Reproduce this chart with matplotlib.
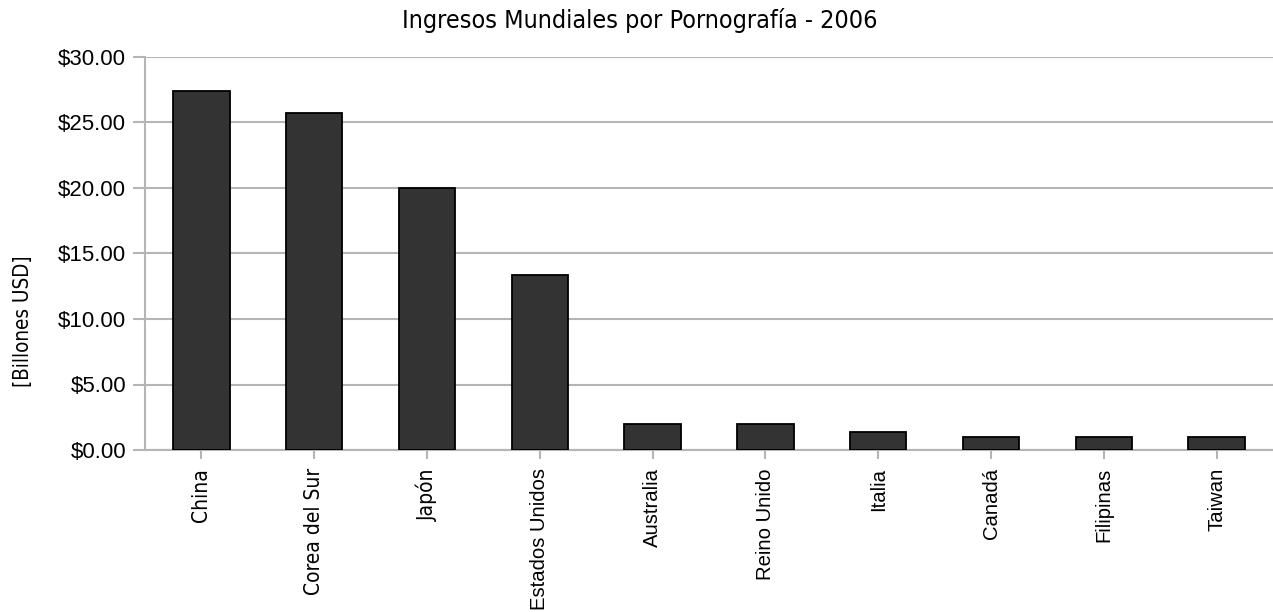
import matplotlib.pyplot as plt
from matplotlib.ticker import FuncFormatter

# Ingresos por país (miles de millones USD), 2006
paises = ["China", "Corea del Sur", "Japón", "Estados Unidos", "Australia",
          "Reino Unido", "Italia", "Canadá", "Filipinas", "Taiwan"]
ingresos = [27.40, 25.73, 19.98, 13.33, 2.00, 1.97, 1.40, 1.00, 1.00, 1.00]
y_ticks = [0, 5, 10, 15, 20, 25, 30]

gris = "#b5b5b5"
condensada = {"family": "DejaVu Sans", "stretch": "condensed"}

fig = plt.figure(figsize=(12.73, 6.12), dpi=100)
ax = fig.add_axes([145 / 1273, 162 / 612, 1 - 145 / 1273, 393 / 612])

x = range(len(paises))
ax.bar(x, ingresos, width=0.5, color="#333333", edgecolor="black",
       linewidth=1.3, zorder=3)

ax.set_xlim(-0.5, len(paises) - 0.5)
ax.set_ylim(0, 30)
ax.set_yticks(y_ticks)
ax.yaxis.set_major_formatter(FuncFormatter(lambda v, p: "${:.2f}".format(v)))
ax.set_xticks(list(x))
ax.set_xticklabels(paises, rotation=90)

# las tres primeras etiquetas salen en otra tipografía
for i, lbl in enumerate(ax.get_xticklabels()):
    if i < 3:
        lbl.set_family("DejaVu Sans")
        lbl.set_stretch("condensed")
        lbl.set_fontsize(15)
    else:
        lbl.set_family("Liberation Sans")
        lbl.set_fontsize(14.6)

for lbl in ax.get_yticklabels():
    lbl.set_family("Liberation Sans")
    lbl.set_fontsize(16)

ax.grid(axis="y", color=gris, linewidth=1.5, zorder=0)
ax.tick_params(axis="y", length=8.6, width=1.5, color=gris, pad=5)
ax.tick_params(axis="x", length=6.5, width=1.5, color=gris, pad=6.5)
for lado in ["top", "right"]:
    ax.spines[lado].set_visible(False)
for lado in ["left", "bottom"]:
    ax.spines[lado].set_color(gris)
    ax.spines[lado].set_linewidth(1.5)

fig.text(640 / 1273, 1 - 28 / 612, "Ingresos Mundiales por Pornografía - 2006",
         ha="center", va="baseline", fontsize=18, **condensada)
fig.text(23 / 1273, 1 - 321 / 612, "[Billones USD]", rotation=90,
         ha="center", va="center", fontsize=14.8, **condensada)

fig.savefig("out.png", dpi=100)
